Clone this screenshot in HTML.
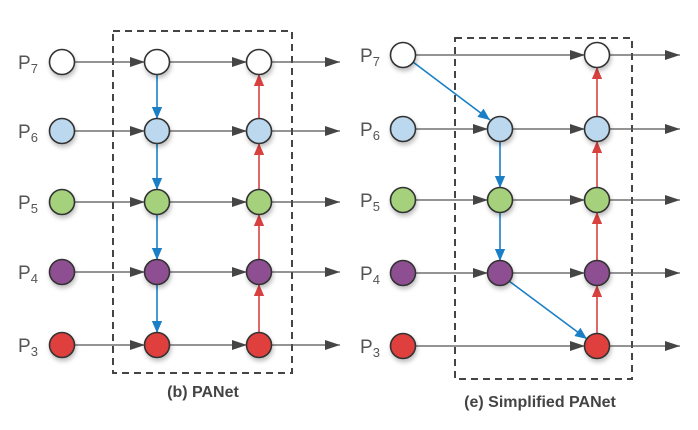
<!DOCTYPE html><html><head><style>body{margin:0;background:#fff}svg{display:block}</style></head><body>
<svg width="698" height="430" viewBox="0 0 698 430" font-family="Liberation Sans, sans-serif">
<defs>
<marker id="g" markerWidth="16" markerHeight="10" refX="15" refY="5" orient="auto" markerUnits="userSpaceOnUse"><path d="M0,0L15,5L0,10z" fill="#454545"/></marker>
<marker id="b" markerWidth="12" markerHeight="16" refX="14" refY="6" orient="auto" markerUnits="userSpaceOnUse" viewBox="0 0 14 12"><path d="M0,0L14,6L0,12z" fill="#1a7fc6"/></marker>
<marker id="r" markerWidth="12" markerHeight="16" refX="14" refY="6" orient="auto" markerUnits="userSpaceOnUse" viewBox="0 0 14 12"><path d="M0,0L14,6L0,12z" fill="#d9413f"/></marker>
<filter id="s"><feDropShadow dx="1" dy="3" stdDeviation="2" flood-opacity="0.25"/></filter>
</defs>
<g fill="none" stroke-dasharray="7,5" stroke="#444" stroke-width="2">
<rect x="113" y="31" width="179" height="342"/>
<rect x="455" y="38" width="177" height="341"/>
</g>
<g stroke="#555" stroke-width="1.3" marker-end="url(#g)">
<line x1="74" y1="62" x2="145" y2="62"/><line x1="169" y1="62" x2="247" y2="62"/><line x1="271" y1="62" x2="340" y2="62"/>
<line x1="74" y1="131" x2="145" y2="131"/><line x1="169" y1="131" x2="247" y2="131"/><line x1="271" y1="131" x2="340" y2="131"/>
<line x1="74" y1="202" x2="145" y2="202"/><line x1="169" y1="202" x2="247" y2="202"/><line x1="271" y1="202" x2="340" y2="202"/>
<line x1="74" y1="272" x2="145" y2="272"/><line x1="169" y1="272" x2="247" y2="272"/><line x1="271" y1="272" x2="340" y2="272"/>
<line x1="74" y1="345" x2="145" y2="345"/><line x1="169" y1="345" x2="247" y2="345"/><line x1="271" y1="345" x2="340" y2="345"/>
<line x1="415" y1="55" x2="585" y2="55"/><line x1="609" y1="55" x2="680" y2="55"/>
<line x1="415" y1="129" x2="488" y2="129"/><line x1="512" y1="129" x2="585" y2="129"/><line x1="609" y1="129" x2="680" y2="129"/>
<line x1="415" y1="200" x2="488" y2="200"/><line x1="512" y1="200" x2="585" y2="200"/><line x1="609" y1="200" x2="680" y2="200"/>
<line x1="415" y1="273" x2="488" y2="273"/><line x1="512" y1="273" x2="585" y2="273"/><line x1="609" y1="273" x2="680" y2="273"/>
<line x1="415" y1="346" x2="585" y2="346"/><line x1="609" y1="346" x2="680" y2="346"/>
</g>
<g stroke="#1a7fc6" stroke-width="1.6" marker-end="url(#b)">
<line x1="157" y1="74" x2="157" y2="119"/><line x1="157" y1="143" x2="157" y2="190"/><line x1="157" y1="214" x2="157" y2="260"/><line x1="157" y1="284" x2="157" y2="333"/>
<line x1="413" y1="62" x2="490" y2="120"/><line x1="500" y1="141" x2="500" y2="188"/><line x1="500" y1="212" x2="500" y2="261"/><line x1="509" y1="281" x2="587" y2="339"/>
</g>
<g stroke="#d9413f" stroke-width="1.6" marker-end="url(#r)">
<line x1="259" y1="119" x2="259" y2="74"/><line x1="259" y1="190" x2="259" y2="143"/><line x1="259" y1="260" x2="259" y2="214"/><line x1="259" y1="333" x2="259" y2="284"/>
<line x1="597" y1="117" x2="597" y2="67"/><line x1="597" y1="188" x2="597" y2="141"/><line x1="597" y1="261" x2="597" y2="212"/><line x1="597" y1="334" x2="597" y2="285"/>
</g>
<g stroke="#333" stroke-width="1.6" filter="url(#s)">
<g fill="#fff"><circle cx="62" cy="62" r="12.5"/><circle cx="157" cy="62" r="12.5"/><circle cx="259" cy="62" r="12.5"/><circle cx="403" cy="55" r="12.5"/><circle cx="597" cy="55" r="12.5"/></g>
<g fill="#bcd8ee"><circle cx="62" cy="131" r="12.5"/><circle cx="157" cy="131" r="12.5"/><circle cx="259" cy="131" r="12.5"/><circle cx="403" cy="129" r="12.5"/><circle cx="500" cy="129" r="12.5"/><circle cx="597" cy="129" r="12.5"/></g>
<g fill="#a5d17b"><circle cx="62" cy="202" r="12.5"/><circle cx="157" cy="202" r="12.5"/><circle cx="259" cy="202" r="12.5"/><circle cx="403" cy="200" r="12.5"/><circle cx="500" cy="200" r="12.5"/><circle cx="597" cy="200" r="12.5"/></g>
<g fill="#8e4f92"><circle cx="62" cy="272" r="12.5"/><circle cx="157" cy="272" r="12.5"/><circle cx="259" cy="272" r="12.5"/><circle cx="403" cy="273" r="12.5"/><circle cx="500" cy="273" r="12.5"/><circle cx="597" cy="273" r="12.5"/></g>
<g fill="#e0403c"><circle cx="62" cy="345" r="12.5"/><circle cx="157" cy="345" r="12.5"/><circle cx="259" cy="345" r="12.5"/><circle cx="403" cy="346" r="12.5"/><circle cx="597" cy="346" r="12.5"/></g>
</g>
<g fill="#555" font-size="19">
<text x="18" y="69">P<tspan font-size="13" dy="4">7</tspan></text>
<text x="18" y="138">P<tspan font-size="13" dy="4">6</tspan></text>
<text x="18" y="209">P<tspan font-size="13" dy="4">5</tspan></text>
<text x="18" y="279">P<tspan font-size="13" dy="4">4</tspan></text>
<text x="18" y="352">P<tspan font-size="13" dy="4">3</tspan></text>
<text x="360" y="62">P<tspan font-size="13" dy="4">7</tspan></text>
<text x="360" y="136">P<tspan font-size="13" dy="4">6</tspan></text>
<text x="360" y="207">P<tspan font-size="13" dy="4">5</tspan></text>
<text x="360" y="280">P<tspan font-size="13" dy="4">4</tspan></text>
<text x="360" y="353">P<tspan font-size="13" dy="4">3</tspan></text>
</g>
<g fill="#444" font-size="16" font-weight="bold" text-anchor="middle">
<text x="203" y="397">(b) PANet</text>
<text x="540" y="407">(e) Simplified PANet</text>
</g>
</svg>
</body></html>
